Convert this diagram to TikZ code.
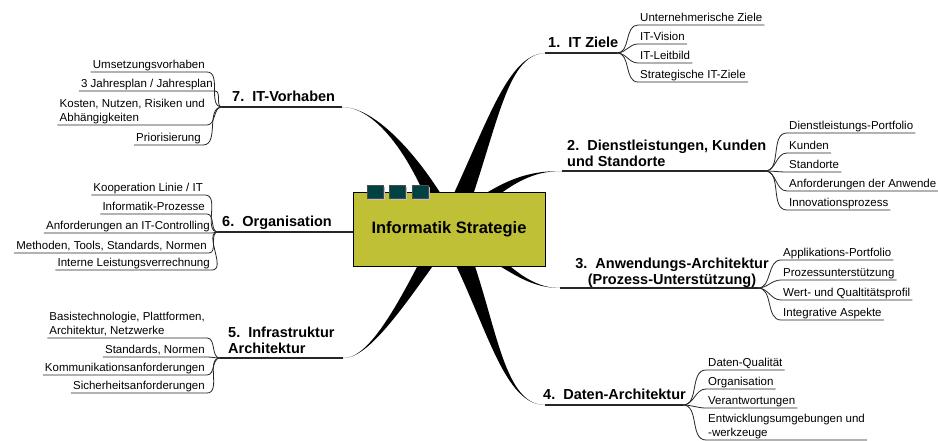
\documentclass[tikz,border=0pt]{standalone}
\usepackage{fontspec}
\setmainfont{Liberation Sans}
\usepackage{tikz}
\usetikzlibrary{calc}

\definecolor{boxolive}{RGB}{191,192,54}
\definecolor{tabteal}{RGB}{0,66,66}

% tapered main branch: start, control 1, control 2, end, half width at start
\newcommand{\limb}[5]{\fill ($(#1)+(#5)$) .. controls ($(#2)+0.5*(#5)$) and (#3) .. (#4) .. controls (#3) and ($(#2)-0.5*(#5)$) .. ($(#1)-(#5)$) -- cycle;}

\begin{document}
\begin{tikzpicture}[x=1pt,y=-1pt]
\tikzset{
    topic/.style={
              rectangle,
                   draw=black,
                   fill=boxolive,
                   minimum width=192pt,
                   minimum height=74pt,
                   font=\fontsize{16.5}{19}\selectfont\bfseries
    },
    tab/.style={
              rectangle,
                   fill=tabteal,
                   draw=black!70,
                   minimum width=16pt,
                   minimum height=13pt,
                   inner sep=0pt
    },
    main/.style={
              inner sep=0pt,
                   font=\fontsize{14.5}{16.5}\selectfont\bfseries
    },
    sub/.style={
              inner xsep=2pt,
                   inner ysep=1pt,
                   text depth=2.5pt,
                   font=\fontsize{11.5}{13.5}\selectfont
    },
    stem/.style={line width=1.3pt, black!85},
    twig/.style={line width=0.8pt, black!85}
}
    \useasboundingbox[fill=white] (0,0) rectangle (938,441);

    \coordinate (hub) at (449,229);
    \coordinate (e1) at (545,53);
    \coordinate (f1) at (617,53);
    \coordinate (e2) at (562,171);
    \coordinate (f2) at (765,171);
    \coordinate (e3) at (560,288);
    \coordinate (f3) at (758,288);
    \coordinate (e4) at (545,405);
    \coordinate (f4) at (683,405);
    \coordinate (e5) at (343,358);
    \coordinate (f5) at (220,358);
    \coordinate (e6) at (353,232);
    \coordinate (f6) at (218,232);
    \coordinate (e7) at (342,107);
    \coordinate (f7) at (222,107);

    \limb{hub}{492,130}{505,55}{e1}{12,0}
    \limb{hub}{500,185}{525,171}{e2}{0,10}
    \limb{hub}{500,255}{520,288}{e3}{0,10}
    \limb{hub}{490,310}{500,405}{e4}{12,0}
    \limb{hub}{420,270}{375,360}{e5}{12,0}
    \limb{hub}{400,232}{370,232}{e6}{0,10}
    \limb{hub}{425,170}{380,107}{e7}{12,0}

    \node (strat)[topic] at (hub) {Informatik Strategie};
    \foreach \x/\n in {375/a,397/b,420/c} {
        \node[tab, fill=black!25, draw=none] at (\x+2,193.5) {};
        \node (tab\n)[tab] at (\x,191.5) {};
    }

    % 1
    \node (b1)[main, anchor=base west] at (548,48) {1.\ \ IT Ziele};
    \draw[stem] (e1) -- (f1);
    \node (s11)[sub, anchor=south west] at (638,25) {Unternehmerische Ziele};
    \node (s12)[sub, anchor=south west] at (638,44) {IT-Vision};
    \node (s13)[sub, anchor=south west] at (638,63) {IT-Leitbild};
    \node (s14)[sub, anchor=south west] at (638,82) {Strategische IT-Ziele};
    \foreach \s in {s11,s12,s13,s14} {
        \draw[twig] (f1) to[out=0,in=180] (\s.south west) -- (\s.south east);
    }

    % 2
    \node (b2)[main, anchor=south west, align=left, text depth=0pt] at (567,167) {2.\ \ Dienstleistungen, Kunden\\und Standorte};
    \draw[stem] (e2) -- (f2);
    \node (s21)[sub, anchor=south west] at (787,133) {Dienstleistungs-Portfolio};
    \node (s22)[sub, anchor=south west] at (787,153) {Kunden};
    \node (s23)[sub, anchor=south west] at (787,172) {Standorte};
    \node (s24)[sub, anchor=south west] at (787,191) {Anforderungen der Anwende};
    \node (s25)[sub, anchor=south west] at (787,210) {Innovationsprozess};
    \foreach \s in {s21,s22,s23,s24,s25} {
        \draw[twig] (f2) to[out=0,in=180] (\s.south west) -- (\s.south east);
    }

    % 3
    \node (b3)[main, anchor=south, align=center, text depth=0pt] at (672,285) {3.\ \ Anwendungs-Architektur\\(Prozess-Unterstützung)};
    \draw[stem] (e3) -- (f3);
    \node (s31)[sub, anchor=south west] at (781,260) {Applikations-Portfolio};
    \node (s32)[sub, anchor=south west] at (781,280) {Prozessunterstützung};
    \node (s33)[sub, anchor=south west] at (781,300) {Wert- und Qualtitätsprofil};
    \node (s34)[sub, anchor=south west] at (781,320) {Integrative Aspekte};
    \foreach \s in {s31,s32,s33,s34} {
        \draw[twig] (f3) to[out=0,in=180] (\s.south west) -- (\s.south east);
    }

    % 4
    \node (b4)[main, anchor=base west] at (543,399) {4.\ \ Daten-Architektur};
    \draw[stem] (e4) -- (f4);
    \node (s41)[sub, anchor=south west] at (706,370) {Daten-Qualität};
    \node (s42)[sub, anchor=south west] at (706,389) {Organisation};
    \node (s43)[sub, anchor=south west] at (706,408) {Verantwortungen};
    \node (s44)[sub, anchor=south west, align=left] at (706,440) {Entwicklungsumgebungen und\\-werkzeuge};
    \foreach \s in {s41,s42,s43,s44} {
        \draw[twig] (f4) to[out=0,in=180] (\s.south west) -- (\s.south east);
    }

    % 5
    \node (b5)[main, anchor=south west, align=left, text depth=0pt] at (228,354) {5.\ \ Infrastruktur\\Architektur};
    \draw[stem] (e5) -- (f5);
    \node (s51)[sub, anchor=south east, align=left] at (207,338) {Basistechnologie, Plattformen,\\Architektur, Netzwerke};
    \node (s52)[sub, anchor=south east] at (207,357) {Standards, Normen};
    \node (s53)[sub, anchor=south east] at (207,375) {Kommunikationsanforderungen};
    \node (s54)[sub, anchor=south east] at (207,393) {Sicherheitsanforderungen};
    \foreach \s in {s51,s52,s53,s54} {
        \draw[twig] (\s.south west) -- (\s.south east) to[out=0,in=180] (f5);
    }

    % 6
    \node (b6)[main, anchor=base west] at (222,226) {6.\ \ Organisation};
    \draw[stem] (e6) -- (f6);
    \node (s61)[sub, anchor=south east] at (205,195) {Kooperation Linie / IT};
    \node (s62)[sub, anchor=south east] at (207,214) {Informatik-Prozesse};
    \node (s63)[sub, anchor=south east] at (212,233) {Anforderungen an IT-Controlling};
    \node (s64)[sub, anchor=south east] at (209,253) {Methoden, Tools, Standards, Normen};
    \node (s65)[sub, anchor=south east] at (212,270) {Interne Leistungsverrechnung};
    \foreach \s in {s61,s62,s63,s64,s65} {
        \draw[twig] (\s.south west) -- (\s.south east) to[out=0,in=180] (f6);
    }

    % 7
    \node (b7)[main, anchor=base west] at (232,102) {7.\ \ IT-Vorhaben};
    \draw[stem] (e7) -- (f7);
    \node (s71)[sub, anchor=south east] at (207,72) {Umsetzungsvorhaben};
    \node (s72)[sub, anchor=south east] at (215,91) {3 Jahresplan / Jahresplan};
    \node (s73)[sub, anchor=south east, align=left] at (207,125) {Kosten, Nutzen, Risiken und\\Abhängigkeiten};
    \node (s74)[sub, anchor=south east] at (203,145) {Priorisierung};
    \foreach \s in {s71,s72,s73,s74} {
        \draw[twig] (\s.south west) -- (\s.south east) to[out=0,in=180] (f7);
    }

\end{tikzpicture}
\end{document}
